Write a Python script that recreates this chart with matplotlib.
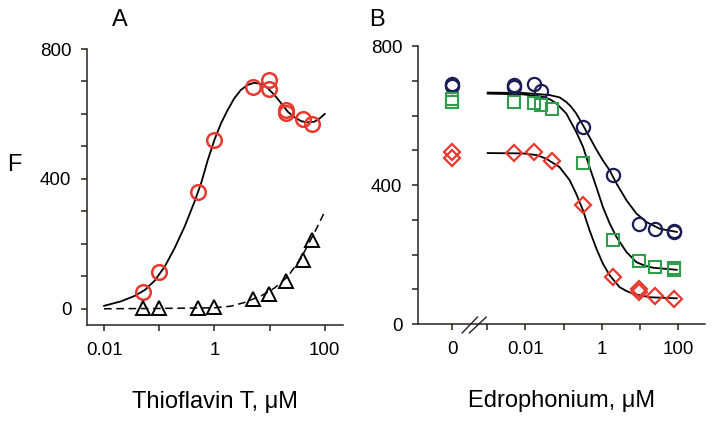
import matplotlib
matplotlib.use('Agg')
import matplotlib.pyplot as plt
import matplotlib.transforms as mtransforms

plt.rcParams['font.family'] = ['Liberation Sans', 'DejaVu Sans']

# ---- Panel A data: Thioflavin T ----
tht_conc = [0.051, 0.1, 0.5, 1.0, 5.1, 9.6, 9.6, 20, 20, 40, 60]
tht_F = [51, 113, 359, 520, 684, 703, 676, 612, 602, 584, 568]

ctrl_conc = [0.051, 0.1, 0.5, 1.0, 5.1, 9.6, 19.5, 40, 60]
ctrl_F = [2, 2, 2, 5, 30, 45, 84, 151, 212]

# fitted curves (log10 of concentration)
fitA_logx = [-2.0, -1.69, -1.44, -1.26, -1.08, -0.90, -0.72, -0.54, -0.36,
             -0.24, -0.12, 0.0, 0.12, 0.24, 0.36, 0.48, 0.60, 0.72, 0.85,
             0.97, 1.09, 1.21, 1.33, 1.45, 1.57, 1.69, 1.81, 1.90, 2.0]
fitA_y = [9, 23, 40, 58, 87, 130, 187, 253, 330,
          387, 458, 520, 571, 612, 648, 674, 689, 696, 692,
          679, 658, 633, 607, 590, 578, 574, 576, 585, 600]

dashA_logx = [-2.0, -1.0, 0.0, 0.3, 0.54, 0.85, 1.09, 1.33, 1.57, 1.81, 2.0]
dashA_y = [0, 1, 3, 8, 19, 40, 64, 99, 156, 233, 299]

# ---- Panel B data: Edrophonium (0 = no drug) ----
zero_pos = 10 ** -3.92
edro_circ_x = [0, 0, 0.0051, 0.0051, 0.0166, 0.026, 0.32, 2.0, 9.6, 24.5, 80, 80]
edro_circ_y = [685, 690, 683, 687, 692, 671, 567, 428, 289, 274, 265, 269]

edro_sq_x = [0, 0, 0.0051, 0.0166, 0.026, 0.05, 0.32, 2.0, 9.6, 24.5, 80, 80]
edro_sq_y = [648, 640, 639, 635, 630, 620, 462, 241, 181, 164, 156, 160]

edro_dia_x = [0, 0, 0.0051, 0.0166, 0.05, 0.32, 2.0, 9.6, 9.6, 24.5, 80]
edro_dia_y = [495, 479, 491, 495, 469, 342, 135, 101, 92, 82, 73]

fitB_circ_logx = [-2.99, -2.07, -1.37, -1.1, -0.93, -0.8, -0.67, -0.49, -0.32, -0.14, 0.03,
                  0.21, 0.39, 0.65, 0.91, 1.18, 1.53, 1.97]
fitB_circ = [666, 665, 659, 652, 639, 625, 606, 572, 538, 502, 471,
             442, 404, 356, 318, 293, 274, 265]

fitB_sq_logx = [-2.99, -2.07, -1.54, -1.35, -1.19, -0.93, -0.67, -0.49, -0.32, -0.14,
                0.03, 0.21, 0.39, 0.65, 0.91, 1.15, 1.35, 1.97]
fitB_sq = [663, 661, 654, 646, 635, 606, 553, 510, 452, 394,
           337, 289, 250, 207, 178, 167, 162, 156]

fitB_dia_logx = [-2.99, -2.07, -1.7, -1.46, -1.11, -0.84, -0.67, -0.49, -0.32, -0.14,
                 0.03, 0.21, 0.47, 0.65, 0.82, 1.26, 1.97]
fitB_dia = [492, 491, 486, 476, 452, 414, 375, 327, 270, 217,
            174, 140, 106, 95, 87, 77, 74]

red = '#e8392f'
navy = '#1c1c56'
green = '#2f9e4c'
axcol = '#2a2020'

fig = plt.figure(figsize=(7.14, 4.25), dpi=100)
axA = fig.add_axes([0.1218, 0.2353, 0.3585, 0.6494])
axB = fig.add_axes([0.5854, 0.2376, 0.4020, 0.6541])


def style(ax):
    for s in ['top', 'right']:
        ax.spines[s].set_visible(False)
    for s in ['left', 'bottom']:
        ax.spines[s].set_color(axcol)
        ax.spines[s].set_linewidth(1.1)
    ax.tick_params(which='major', direction='out', length=4.3, width=1.1,
                   color=axcol, labelsize=13.5)
    ax.tick_params(axis='y', pad=7)
    ax.tick_params(axis='x', pad=8)
    ax.tick_params(which='minor', length=0)
    ax.set_yticks(range(0, 801, 100))
    ax.set_yticklabels([str(v) if v % 400 == 0 else '' for v in range(0, 801, 100)])


def unlog(lx):
    return [10 ** v for v in lx]


# ---- Panel A ----
axA.set_xscale('log')
axA.plot(unlog(fitA_logx), fitA_y, color='black', lw=1.3, zorder=2)
axA.plot(unlog(dashA_logx), dashA_y, color='black', lw=1.1, ls=(0, (5, 3)), zorder=2)
axA.plot(tht_conc, tht_F, 'o', ms=10.5, mfc='none', mec=red, mew=1.8, zorder=3)
axA.plot(ctrl_conc, ctrl_F, '^', ms=10, mfc='none', mec='black', mew=1.4, zorder=3)
axA.set_xlim(10 ** -2.31, 10 ** 2.33)
axA.set_ylim(-50, 800)
style(axA)
axA.set_xticks([0.01, 0.1, 1, 10, 100])
axA.set_xticklabels(['0.01', '', '1', '', '100'])
axA.set_xlabel('Thioflavin T, \u03bcM', fontsize=17, labelpad=23)

# ---- Panel B ----
axB.set_xscale('log')
for lx, fy in [(fitB_circ_logx, fitB_circ), (fitB_sq_logx, fitB_sq),
               (fitB_dia_logx, fitB_dia)]:
    axB.plot(unlog(lx), fy, color='black', lw=1.3, zorder=2)


def place(xs):
    return [zero_pos if v == 0 else v for v in xs]


axB.plot(place(edro_circ_x), edro_circ_y, 'o', ms=9.5, mfc='none', mec=navy, mew=1.6, zorder=3)
axB.plot(place(edro_sq_x), edro_sq_y, 's', ms=8.5, mfc='none', mec=green, mew=1.5, zorder=3)
axB.plot(place(edro_dia_x), edro_dia_y, 'D', ms=8.5, mfc='none', mec=red, mew=1.6, zorder=3)
axB.set_xlim(10 ** -4.82, 10 ** 2.71)
axB.set_ylim(0, 800)
style(axB)
axB.set_xticks([zero_pos, 1e-3, 1e-2, 1e-1, 1, 10, 100])
axB.set_xticklabels(['0', '', '0.01', '', '1', '', '100'])
axB.set_xlabel('Edrophonium, \u03bcM', fontsize=17, labelpad=23)

# axis break marks
trans = mtransforms.blended_transform_factory(axB.transData, axB.transAxes)
for a, b in [(-3.66, -3.26), (-3.47, -3.03)]:
    axB.plot([10 ** a, 10 ** b], [-0.032, 0.025], color=axcol, lw=1.0,
             transform=trans, clip_on=False)

fig.text(0.168, 0.952, 'A', fontsize=17, ha='center', va='center')
fig.text(0.528, 0.952, 'B', fontsize=17, ha='center', va='center')
fig.text(0.020, 0.612, 'F', fontsize=17, ha='center', va='center')

fig.savefig('out.png', dpi=100)
